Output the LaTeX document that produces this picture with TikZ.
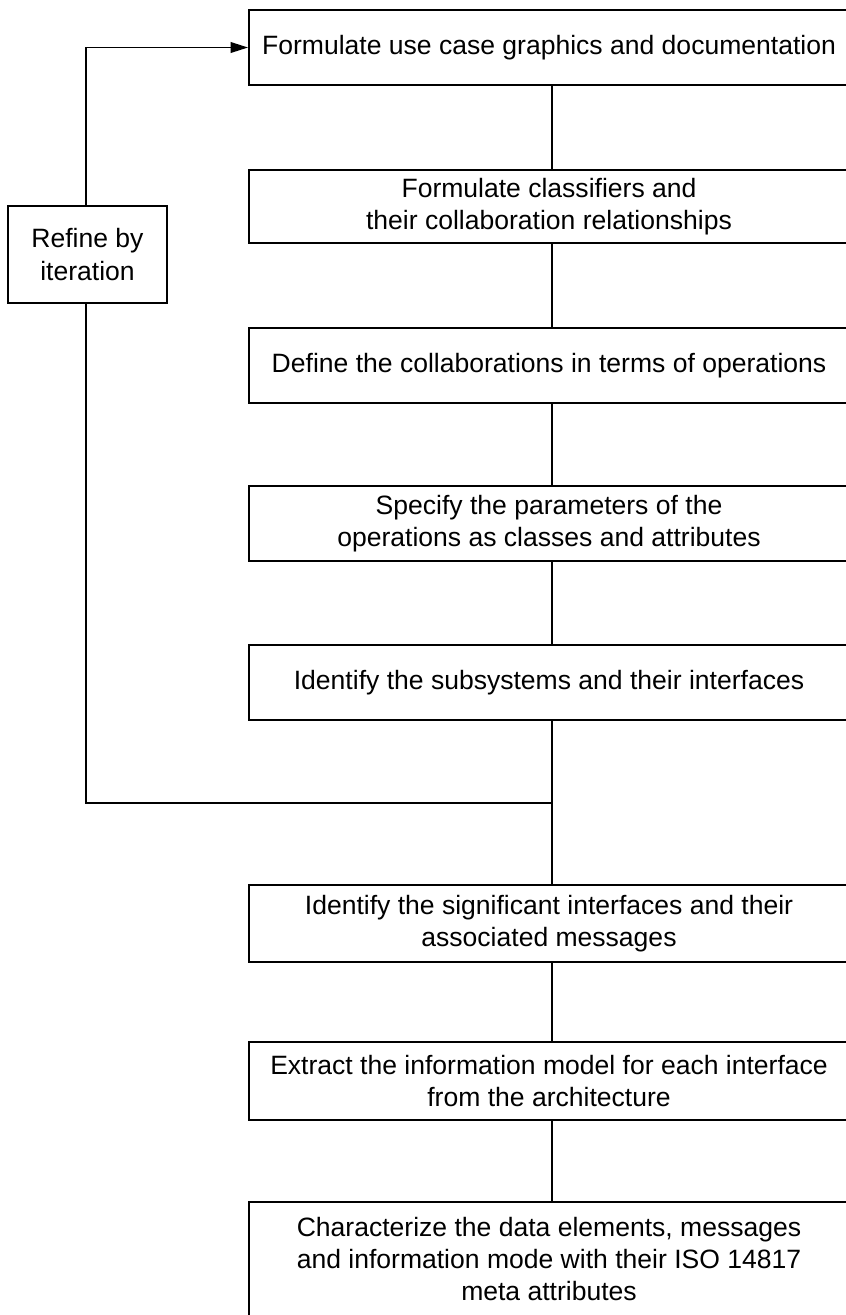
\documentclass[tikz,border=0pt]{standalone}
\usepackage{fontspec}
\setmainfont{Liberation Sans}
\usetikzlibrary{arrows.meta}
\begin{document}
\begin{tikzpicture}[x=0.75pt,y=-0.75pt,
  boxtext/.style={align=center,font=\fontsize{19.9pt}{24.2pt}\selectfont},
  framebox/.style={draw,line width=1.5pt,inner sep=0pt},
  link/.style={line width=1.1pt}]
\useasboundingbox (0,0) rectangle (846,1315);
\clip (0,0) rectangle (846,1315);
% main step boxes (right edges run past the page border)
\newcommand{\stepnode}[4]{%
  \node[framebox,minimum width=606*0.75pt,minimum height=#3*0.75pt] (#1) at (552,#2) {};
  \node[boxtext] at (549,#2) {#4};}
\stepnode{s1}{47.5}{75}{Formulate use case graphics and documentation}
\stepnode{s2}{206.5}{73}{Formulate classifiers and\\their collaboration relationships}
\stepnode{s3}{365.5}{75}{Define the collaborations in terms of operations}
\stepnode{s4}{523.5}{75}{Specify the parameters of the\\operations as classes and attributes}
\stepnode{s5}{682.5}{75}{Identify the subsystems and their interfaces}
\stepnode{s6}{923.5}{77}{Identify the significant interfaces and their\\associated messages}
\stepnode{s7}{1081}{78}{Extract the information model for each interface\\from the architecture}
\node[framebox,minimum width=606*0.75pt,minimum height=140*0.75pt] (s8) at (552,1272) {};
\node[boxtext] at (549,1259) {Characterize the data elements, messages\\and information mode with their ISO 14817\\meta attributes};
% iteration box
\node[framebox,minimum width=159*0.75pt,minimum height=97*0.75pt,boxtext] (ref) at (87.5,254.5) {Refine by\\iteration};
% connectors between steps
\draw[link] (s1.south) -- (s2.north);
\draw[link] (s2.south) -- (s3.north);
\draw[link] (s3.south) -- (s4.north);
\draw[link] (s4.south) -- (s5.north);
\draw[link] (s5.south) -- (s6.north);
\draw[link] (s6.south) -- (s7.north);
\draw[link] (s7.south) -- (s8.north);
% feedback loop
\coordinate (j) at (552,803);
\draw[link] (j) -- (86,803) -- (ref.south -| 86,0);
\draw[link,-{Triangle[length=13pt,width=8pt]}] (ref.north -| 86,0) |- (s1.west);
\end{tikzpicture}
\end{document}
